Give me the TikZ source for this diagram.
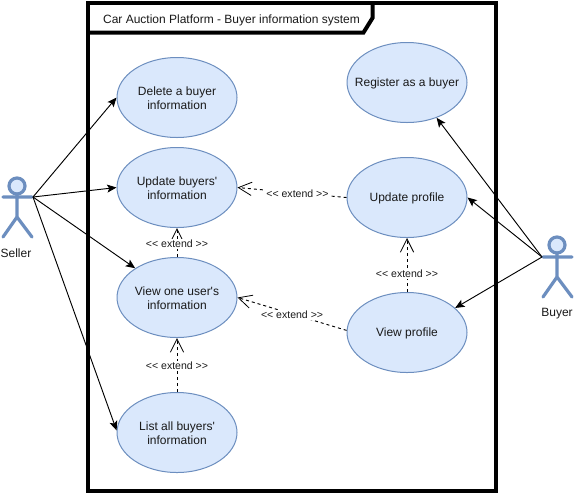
\documentclass[tikz,border=0pt]{standalone}
\usepackage{fontspec}
\newfontfamily\lib{Liberation Sans}
\usetikzlibrary{arrows.meta,shapes.geometric}
\definecolor{ucfill}{HTML}{DAE8FC}
\definecolor{ucline}{HTML}{6C8EBF}
\newcommand\ucl[1]{\raisebox{-0.6pt}[\height][\depth]{#1}}
\begin{document}
\begin{tikzpicture}[x=0.75pt,y=-0.75pt,
  usecase/.style={ellipse,draw=ucline,fill=ucfill,line width=0.75pt,minimum width=90pt,minimum height=60pt,inner sep=0pt,align=center,font=\lib\fontsize{9}{10.5}\selectfont,text=black!90},
  actorline/.style={draw=ucline,line width=2.4pt,line cap=round},
  assoc/.style={draw=black,line width=0.7pt,-{Stealth[length=7pt,width=6pt,inset=1.5pt]}},
  ext/.style={draw=black,line width=0.7pt,dash pattern=on 2.25pt off 2.25pt,-{Straight Barb[length=10pt,width=10pt,line width=0.6pt]}},
  extlabel/.style={fill=white,inner sep=1pt,yshift=-0.6pt,font=\lib\fontsize{7.9}{9}\selectfont,text=black!90},
  caption/.style={font=\lib\fontsize{9}{10.5}\selectfont,text=black!90}]
\useasboundingbox (0,0) rectangle (574,494);
\fill[white] (0,0) rectangle (574,494);
% frame
\draw[line width=3pt,line join=miter] (88,3) rectangle (496,491);
\draw[line width=3pt,line join=miter] (88,32.5) -- (363.5,32.5) -- (372.5,18) -- (372.5,3);
\node[caption] (title) at (231.5,20) {Car Auction Platform - Buyer information system};
% use cases
\node[usecase] (del) at (177,97.5) {\ucl{Delete a buyer}\\\ucl{information}};
\node[usecase] (upd) at (177,187.5) {\ucl{Update buyers'}\\\ucl{information}};
\node[usecase] (view) at (177,297.5) {\ucl{View one user's}\\\ucl{information}};
\node[usecase] (list) at (177,432.5) {\ucl{List all buyers'}\\\ucl{information}};
\node[usecase] (reg) at (407,82.5) {\makebox[0pt]{\ucl{Register as a buyer}}};
\node[usecase] (prof) at (407,197.5) {\ucl{Update profile}};
\node[usecase] (vprof) at (407,332.5) {\ucl{View profile}};
% actors
\draw[actorline,fill=ucfill] (17,186) circle (8);
\draw[actorline] (17,194) -- (17,217) (3,197) -- (32,197) (3,237) -- (17,217) -- (32,237);
\coordinate (seller) at (33,197);
\node[caption] (sellerlabel) at (16,253) {Seller};
\draw[actorline,fill=ucfill] (557,245) circle (8);
\draw[actorline] (557,253) -- (557,277) (543,257) -- (572,257) (543,297) -- (557,277) -- (572,297);
\coordinate (buyer) at (542,257);
\node[caption] (buyerlabel) at (557,314) {Buyer};
% associations
\draw[assoc] (seller) -- (del.west);
\draw[assoc] (seller) -- (upd.west);
\draw[assoc] (seller) -- (view.145);
\draw[assoc] (seller) -- (list.178);
\draw[assoc] (buyer) -- (reg.-50);
\draw[assoc] (buyer) -- (prof.east);
\draw[assoc] (buyer) -- (vprof.27);
% extends
\draw[ext] (prof.west) -- node[extlabel,pos=0.45] {<< extend >>} (upd.east);
\draw[ext] (vprof.178) -- node[extlabel,pos=0.5] {<< extend >>} (view.east);
\draw[ext] (vprof.north) -- node[extlabel,pos=0.35] {<< extend >>} (prof.south);
\draw[ext] (view.north) -- node[extlabel,pos=0.48] {<< extend >>} (upd.south);
\draw[ext] (list.north) -- node[extlabel,pos=0.5] {<< extend >>} (view.south);
\end{tikzpicture}
\end{document}
